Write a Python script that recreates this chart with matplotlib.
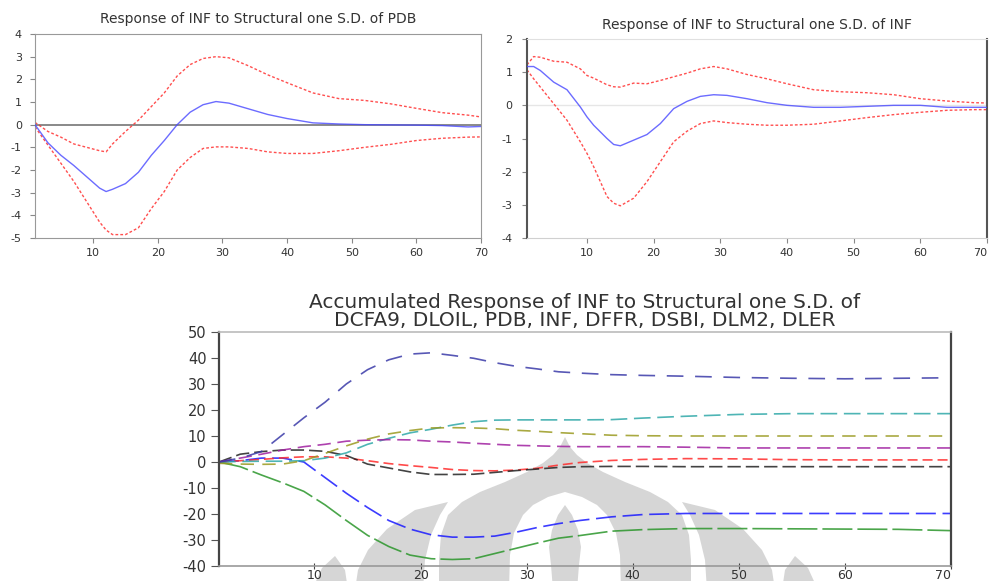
import numpy as np
import matplotlib
matplotlib.use('Agg')
import matplotlib.pyplot as plt
from matplotlib.patches import Polygon

# =============================================
# Data: Response of INF to Structural one S.D. of PDB
# =============================================
per_pdb = [1, 3, 5, 7, 9, 11, 12, 13, 15, 17, 19, 21, 23, 25, 27, 29, 31, 34, 37, 40,
           44, 48, 52, 56, 60, 64, 68, 70]
pdb_resp = [0.0, -0.8, -1.35, -1.8, -2.3, -2.8, -2.95, -2.85, -2.6, -2.1, -1.35, -0.7, 0.0,
            0.55, 0.88, 1.02, 0.95, 0.7, 0.45, 0.27, 0.08, 0.03, 0.0, -0.01, -0.02, -0.04,
            -0.1, -0.08]
pdb_upper = [0.1, -0.3, -0.55, -0.85, -1.0, -1.15, -1.2, -0.85, -0.3, 0.2, 0.8, 1.4, 2.15,
             2.65, 2.92, 3.0, 2.95, 2.6, 2.2, 1.85, 1.4, 1.15, 1.07, 0.92, 0.72, 0.53, 0.42,
             0.34]
pdb_lower = [-0.1, -0.9, -1.7, -2.5, -3.4, -4.3, -4.65, -4.85, -4.85, -4.55, -3.7, -2.95,
             -2.0, -1.45, -1.05, -0.98, -0.98, -1.05, -1.2, -1.27, -1.27, -1.15, -1.0, -0.87,
             -0.7, -0.6, -0.55, -0.54]

# =============================================
# Data: Response of INF to Structural one S.D. of INF
# =============================================
per_inf = [1, 2, 3, 5, 7, 9, 10, 11, 13, 14, 15, 17, 19, 21, 23, 25, 27, 29, 31, 34, 37,
           40, 44, 48, 52, 56, 60, 64, 68, 70]
inf_resp = [1.17, 1.17, 1.05, 0.7, 0.47, -0.05, -0.35, -0.6, -1.0, -1.18, -1.22, -1.05,
            -0.88, -0.55, -0.1, 0.12, 0.27, 0.32, 0.3, 0.2, 0.08, 0.0, -0.06, -0.06, -0.03,
            0.0, 0.0, -0.06, -0.06, -0.06]
inf_upper = [1.22, 1.47, 1.45, 1.33, 1.3, 1.1, 0.9, 0.82, 0.62, 0.56, 0.55, 0.67, 0.65,
             0.75, 0.86, 0.97, 1.1, 1.17, 1.1, 0.93, 0.8, 0.65, 0.47, 0.41, 0.38, 0.32, 0.2,
             0.13, 0.08, 0.07]
inf_lower = [1.07, 0.8, 0.55, 0.05, -0.45, -1.1, -1.45, -1.85, -2.75, -2.95, -3.03, -2.8,
             -2.3, -1.7, -1.1, -0.78, -0.55, -0.47, -0.52, -0.57, -0.6, -0.6, -0.57, -0.47,
             -0.37, -0.28, -0.21, -0.15, -0.13, -0.13]

# =============================================
# Data: Accumulated Response of INF
# =============================================
per_acc = [1, 3, 5, 7, 9, 11, 13, 15, 17, 19, 21, 23, 25, 27, 29, 31, 33, 35, 38, 41, 45,
           50, 55, 60, 65, 70]
acc_dcfa9 = [0, 0.5, 1.5, 1.5, 0, -6, -12, -17.5, -22.5, -25.8, -28, -28.9, -28.9, -28.5,
             -27, -25.2, -23.7, -22.5, -21.1, -20.2, -19.8, -19.8, -19.8, -19.8, -19.8, -19.8]
acc_dloil = [0, 0.5, 1, 1.6, 2, 2, 1.5, 0.5, -0.6, -1.4, -2.1, -2.9, -3.3, -3.4, -3.1, -2.4,
             -1.2, -0.2, 0.6, 1.0, 1.3, 1.2, 0.9, 0.8, 0.8, 0.8]
acc_pdb = [0, -1.8, -5, -8, -11.3, -16.5, -22.5, -28.2, -32.5, -35.8, -37.2, -37.5, -37.2,
           -35.2, -33.2, -31.2, -29.3, -28.3, -26.6, -26, -25.6, -25.6, -25.7, -25.8, -25.9,
           -26.4]
acc_inf = [0, 3, 4, 4.6, 4.6, 4.1, 2.5, -0.8, -2.3, -3.8, -4.8, -4.8, -4.7, -4.0, -3.3, -2.7,
           -2.1, -1.8, -1.7, -1.7, -1.8, -1.8, -1.8, -1.8, -1.8, -1.8]
acc_dffr = [0, 0.2, 0.3, 0.3, 0.5, 1.5, 3.5, 6.8, 9.1, 11.2, 12.6, 14.2, 15.5, 16.1, 16.2,
            16.2, 16.2, 16.2, 16.3, 16.9, 17.6, 18.3, 18.6, 18.6, 18.6, 18.6]
acc_dsbi = [0, 1.5, 3, 4.6, 5.9, 6.8, 8, 8.4, 8.6, 8.5, 8, 7.7, 7.2, 6.8, 6.4, 6.2, 6.0, 5.9,
            5.9, 5.9, 5.7, 5.4, 5.4, 5.4, 5.4, 5.4]
acc_dlm2 = [-0.5, -0.8, -0.9, -0.8, 0.5, 3.3, 6.2, 8.8, 10.8, 12.1, 13.1, 13.2, 13.1, 12.8,
            12.2, 11.8, 11.3, 10.9, 10.3, 10.1, 10, 10, 10, 10, 10, 10]
acc_dler = [0, 1.5, 4, 10.5, 17, 23, 30, 35.5, 39.3, 41.5, 42, 41, 39.9, 38.2, 36.8, 35.8,
            34.7, 34.2, 33.6, 33.3, 33, 32.5, 32.2, 32, 32.2, 32.4]

acc_series = [acc_dcfa9, acc_dloil, acc_pdb, acc_inf, acc_dffr, acc_dsbi, acc_dlm2, acc_dler]
acc_colors = ['#1a1aff', '#ff2a2a', '#2a962a', '#222222', '#2fa8a8', '#a020a0', '#9a9a20',
              '#3a3aa8']
acc_styles = [(0, (12, 4)), (0, (6, 3)), (0, (18, 3)), (0, (8, 3)), (0, (10, 4)),
              (0, (8, 4)), (0, (8, 5)), (0, (10, 7))]

x_ticks = [10, 20, 30, 40, 50, 60, 70]


def draw_watermark(ax):
    # logo watermark behind the lower chart, in pixel coordinates
    gray = '#d6d6d6'
    cx = 565
    ys = [437, 447, 455, 463, 472, 482, 492, 502, 515, 535, 560, 590]
    hw = [0, 5, 12, 22, 38, 60, 85, 103, 117, 124, 126, 126]
    body = [(cx - w, y) for w, y in zip(hw, ys)][::-1] + [(cx + w, y) for w, y in zip(hw, ys)]
    ax.add_patch(Polygon(body, closed=True, fc=gray, ec='none'))

    ys = [492, 497, 505, 515, 533, 555, 590]
    hw = [0, 17, 32, 42, 51, 55, 56]
    arch = [(cx - w, y) for w, y in zip(hw, ys)][::-1] + [(cx + w, y) for w, y in zip(hw, ys)]
    ax.add_patch(Polygon(arch, closed=True, fc='white', ec='none'))

    ys = [505, 515, 530, 547, 565, 590]
    hw = [0, 7, 13, 16, 14, 12]
    drop = [(cx - w, y) for w, y in zip(hw, ys)][::-1] + [(cx + w, y) for w, y in zip(hw, ys)]
    ax.add_patch(Polygon(drop, closed=True, fc=gray, ec='none'))

    petal = [(448, 502), (415, 510), (387, 529), (368, 550), (358, 570), (355, 590),
             (423, 590), (425, 560), (431, 535), (440, 515)]
    arc = [(335, 556), (322, 568), (312, 590), (348, 590), (345, 570)]
    for shape in (petal, arc):
        ax.add_patch(Polygon(shape, closed=True, fc=gray, ec='none'))
        ax.add_patch(Polygon([(2 * cx - x, y) for x, y in shape], closed=True,
                             fc=gray, ec='none'))


fig = plt.figure(figsize=(9.9, 5.81), dpi=100)

bg = fig.add_axes([0, 0, 1, 1], zorder=0)
bg.set_xlim(0, 990)
bg.set_ylim(581, 0)
bg.axis('off')
draw_watermark(bg)

# =============================================
# Top left panel
# =============================================
ax1 = fig.add_axes([35 / 990, 1 - 238 / 581, 446 / 990, 204 / 581], zorder=1)
ax1.axhline(0, color='#808080', lw=1.3, zorder=1)
ax1.plot(per_pdb, pdb_resp, color='#4747ff', lw=1.0, alpha=0.8, zorder=3)
ax1.plot(per_pdb, pdb_upper, color='#ff3030', lw=1.0, ls=(0, (2, 1.5)), alpha=0.85, zorder=2)
ax1.plot(per_pdb, pdb_lower, color='#ff3030', lw=1.0, ls=(0, (2, 1.5)), alpha=0.85, zorder=2)
ax1.set_xlim(1, 70)
ax1.set_ylim(-5, 4)
ax1.set_xticks(x_ticks)
ax1.set_yticks(range(-5, 5))
ax1.set_yticklabels([str(v) for v in range(-5, 5)])
ax1.set_title('Response of INF to Structural one S.D. of PDB', fontsize=10, pad=8,
              color='#333333')
for s in ax1.spines.values():
    s.set_color('#999999')
ax1.tick_params(axis='both', labelsize=8, length=3.5, color='#888888', labelcolor='#333333')
ax1.tick_params(axis='y', pad=6)

# =============================================
# Top right panel
# =============================================
ax2 = fig.add_axes([527 / 990, 1 - 238 / 581, 460 / 990, 199 / 581], zorder=1)
ax2.axhline(0, color='#e6e6e6', lw=1.0, zorder=1)
ax2.plot(per_inf, inf_resp, color='#4747ff', lw=1.0, alpha=0.8, zorder=3)
ax2.plot(per_inf, inf_upper, color='#ff3030', lw=1.0, ls=(0, (2, 1.5)), alpha=0.85, zorder=2)
ax2.plot(per_inf, inf_lower, color='#ff3030', lw=1.0, ls=(0, (2, 1.5)), alpha=0.85, zorder=2)
ax2.set_xlim(1, 70)
ax2.set_ylim(-4, 2)
ax2.set_xticks(x_ticks)
ax2.set_yticks(range(-4, 3))
ax2.set_yticklabels([str(v) for v in range(-4, 3)])
ax2.set_title('Response of INF to Structural one S.D. of INF', fontsize=10, pad=7,
              color='#333333')
ax2.spines['left'].set_color('#555555')
ax2.spines['left'].set_linewidth(1.5)
ax2.spines['right'].set_color('#555555')
ax2.spines['right'].set_linewidth(1.5)
ax2.spines['top'].set_color('#e0e0e0')
ax2.spines['bottom'].set_color('#d0d0d0')
ax2.tick_params(axis='both', labelsize=8, length=3.5, color='#888888', labelcolor='#333333')
ax2.tick_params(axis='y', pad=7)
ax2.get_xticklabels()[-1].set_horizontalalignment('right')

# =============================================
# Bottom panel: accumulated responses
# =============================================
ax3 = fig.add_axes([219 / 990, 1 - 566 / 581, 732 / 990, 234 / 581], zorder=2)
ax3.set_facecolor('none')
for vals, col, st in zip(acc_series, acc_colors, acc_styles):
    ax3.plot(per_acc, vals, color=col, lw=1.2, ls=st, alpha=0.85)
ax3.set_xlim(1, 70)
ax3.set_ylim(-40, 50)
ax3.set_xticks(x_ticks)
ax3.set_yticks(range(-40, 60, 10))
ax3.set_yticklabels([str(v) for v in range(-40, 60, 10)])
ax3.set_title('Accumulated Response of INF to Structural one S.D. of\n'
              'DCFA9, DLOIL, PDB, INF, DFFR, DSBI, DLM2, DLER',
              fontsize=14.5, pad=4, color='#333333', linespacing=0.95)
ax3.spines['left'].set_color('#444444')
ax3.spines['left'].set_linewidth(1.6)
ax3.spines['right'].set_color('#444444')
ax3.spines['right'].set_linewidth(1.6)
ax3.spines['top'].set_color('#bbbbbb')
ax3.spines['top'].set_linewidth(1.2)
ax3.spines['bottom'].set_color('#999999')
ax3.spines['bottom'].set_linewidth(1.2)
ax3.tick_params(axis='y', labelsize=10.5, length=6, pad=3, color='#555555',
                labelcolor='#333333')
ax3.tick_params(axis='x', labelsize=9, length=5, direction='inout', pad=0,
                color='#444444', labelcolor='#333333')
ax3.get_xticklabels()[-1].set_horizontalalignment('right')

fig.savefig('out.png', dpi=100)
